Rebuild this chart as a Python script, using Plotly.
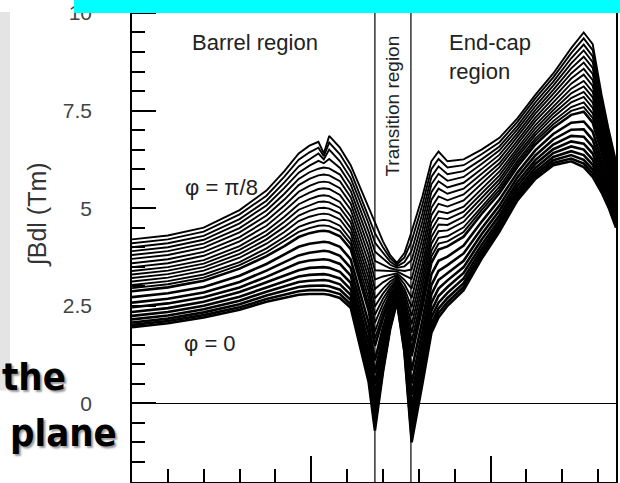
import plotly.graph_objects as go

# pseudorapidity knots (|eta|)
eta = [0.00, 0.20, 0.40, 0.60, 0.75, 0.85, 0.93, 0.99, 1.04, 1.07, 1.10, 1.16, 1.22, 1.27,
       1.32, 1.355, 1.40, 1.44, 1.478, 1.52, 1.56, 1.62, 1.67, 1.71, 1.76, 1.85, 1.95, 2.05,
       2.15, 2.25, 2.35, 2.45, 2.52, 2.57, 2.62, 2.66, 2.70]

# field integral (Tm), one list per azimuthal angle, from phi = 0 (phi_00) up to phi = pi/8 (phi_23)
phi_00 = [1.95, 2.05, 2.20, 2.40, 2.60, 2.70, 2.78, 2.80, 2.80, 2.80, 2.78, 2.70, 2.45, 1.50, 0.55, -0.70, 0.80, 1.90, 2.60, 1.30, -1.00, 0.50, 1.80, 2.20, 2.50, 2.90, 3.70, 4.40, 5.20, 5.75, 6.10, 6.20, 6.05, 5.80, 5.40, 5.00, 4.50]
phi_01 = [2.01, 2.11, 2.26, 2.46, 2.67, 2.78, 2.87, 2.90, 2.90, 2.90, 2.88, 2.80, 2.54, 1.60, 0.66, -0.57, 0.88, 1.95, 2.63, 1.36, -0.87, 0.62, 1.91, 2.31, 2.59, 2.98, 3.77, 4.46, 5.25, 5.80, 6.16, 6.27, 6.14, 5.89, 5.46, 5.05, 4.54]
phi_02 = [2.07, 2.17, 2.33, 2.54, 2.76, 2.88, 2.98, 3.01, 3.02, 3.02, 3.00, 2.91, 2.65, 1.72, 0.80, -0.41, 0.98, 2.00, 2.66, 1.44, -0.70, 0.76, 2.04, 2.43, 2.70, 3.08, 3.85, 4.53, 5.32, 5.87, 6.23, 6.36, 6.24, 5.99, 5.54, 5.11, 4.59]
phi_03 = [2.15, 2.25, 2.41, 2.63, 2.86, 2.99, 3.11, 3.14, 3.15, 3.16, 3.14, 3.05, 2.78, 1.87, 0.95, -0.22, 1.10, 2.07, 2.69, 1.53, -0.51, 0.93, 2.20, 2.58, 2.83, 3.20, 3.95, 4.62, 5.39, 5.94, 6.31, 6.46, 6.36, 6.11, 5.63, 5.18, 4.65]
phi_04 = [2.24, 2.34, 2.50, 2.73, 2.97, 3.12, 3.25, 3.29, 3.31, 3.31, 3.29, 3.20, 2.92, 2.03, 1.13, -0.01, 1.24, 2.15, 2.73, 1.63, -0.30, 1.12, 2.37, 2.75, 2.98, 3.34, 4.06, 4.71, 5.47, 6.03, 6.41, 6.58, 6.50, 6.24, 5.73, 5.26, 4.72]
phi_05 = [2.34, 2.44, 2.60, 2.85, 3.10, 3.27, 3.41, 3.47, 3.49, 3.49, 3.47, 3.37, 3.09, 2.21, 1.33, 0.23, 1.39, 2.23, 2.78, 1.75, -0.06, 1.34, 2.57, 2.94, 3.15, 3.49, 4.19, 4.82, 5.57, 6.13, 6.51, 6.71, 6.65, 6.40, 5.84, 5.35, 4.80]
phi_06 = [2.46, 2.56, 2.72, 2.97, 3.24, 3.43, 3.60, 3.66, 3.68, 3.69, 3.67, 3.57, 3.27, 2.41, 1.55, 0.49, 1.55, 2.33, 2.83, 1.87, 0.22, 1.58, 2.79, 3.16, 3.33, 3.65, 4.33, 4.94, 5.67, 6.23, 6.63, 6.85, 6.83, 6.57, 5.96, 5.45, 4.88]
phi_07 = [2.58, 2.68, 2.84, 3.11, 3.40, 3.61, 3.79, 3.86, 3.90, 3.91, 3.89, 3.78, 3.47, 2.63, 1.80, 0.78, 1.74, 2.43, 2.88, 2.01, 0.51, 1.84, 3.03, 3.39, 3.54, 3.84, 4.48, 5.07, 5.79, 6.35, 6.76, 7.01, 7.02, 6.75, 6.10, 5.56, 4.98]
phi_08 = [2.72, 2.82, 2.98, 3.27, 3.57, 3.81, 4.01, 4.09, 4.13, 4.14, 4.12, 4.01, 3.69, 2.88, 2.06, 1.10, 1.94, 2.55, 2.94, 2.17, 0.84, 2.13, 3.30, 3.65, 3.76, 4.04, 4.65, 5.22, 5.91, 6.48, 6.90, 7.19, 7.22, 6.96, 6.25, 5.68, 5.08]
phi_09 = [2.87, 2.97, 3.14, 3.45, 3.77, 4.03, 4.26, 4.36, 4.41, 4.42, 4.40, 4.28, 3.95, 3.16, 2.37, 1.47, 2.17, 2.68, 3.01, 2.35, 1.21, 2.47, 3.60, 3.94, 4.02, 4.27, 4.85, 5.38, 6.06, 6.63, 7.06, 7.39, 7.47, 7.19, 6.43, 5.82, 5.20]
phi_10 = [2.95, 3.05, 3.22, 3.54, 3.87, 4.15, 4.39, 4.49, 4.55, 4.56, 4.54, 4.42, 4.08, 3.30, 2.53, 1.66, 2.29, 2.75, 3.05, 2.44, 1.40, 2.64, 3.76, 4.09, 4.15, 4.39, 4.95, 5.47, 6.14, 6.71, 7.15, 7.49, 7.59, 7.31, 6.52, 5.89, 5.26]
phi_11 = [3.03, 3.13, 3.30, 3.62, 3.97, 4.26, 4.52, 4.62, 4.68, 4.70, 4.68, 4.55, 4.20, 3.44, 2.69, 1.84, 2.41, 2.81, 3.08, 2.52, 1.59, 2.80, 3.91, 4.24, 4.28, 4.51, 5.04, 5.55, 6.21, 6.78, 7.23, 7.59, 7.71, 7.43, 6.60, 5.96, 5.32]
phi_12 = [3.12, 3.22, 3.40, 3.73, 4.09, 4.39, 4.67, 4.78, 4.84, 4.86, 4.84, 4.71, 4.35, 3.61, 2.87, 2.06, 2.55, 2.89, 3.12, 2.63, 1.81, 3.00, 4.09, 4.41, 4.43, 4.65, 5.16, 5.65, 6.30, 6.87, 7.33, 7.71, 7.85, 7.57, 6.70, 6.04, 5.39]
phi_13 = [3.21, 3.31, 3.49, 3.83, 4.20, 4.52, 4.81, 4.93, 5.00, 5.01, 4.99, 4.86, 4.49, 3.77, 3.04, 2.27, 2.68, 2.96, 3.16, 2.73, 2.02, 3.19, 4.26, 4.58, 4.57, 4.78, 5.27, 5.74, 6.38, 6.95, 7.42, 7.82, 7.98, 7.70, 6.80, 6.12, 5.45]
phi_14 = [3.30, 3.40, 3.58, 3.93, 4.31, 4.65, 4.96, 5.08, 5.16, 5.17, 5.15, 5.01, 4.64, 3.93, 3.22, 2.48, 2.81, 3.04, 3.20, 2.83, 2.24, 3.38, 4.44, 4.75, 4.72, 4.91, 5.38, 5.84, 6.46, 7.04, 7.51, 7.94, 8.12, 7.84, 6.90, 6.20, 5.52]
phi_15 = [3.39, 3.49, 3.67, 4.03, 4.42, 4.78, 5.10, 5.23, 5.31, 5.33, 5.31, 5.16, 4.79, 4.09, 3.40, 2.69, 2.94, 3.12, 3.24, 2.93, 2.46, 3.57, 4.62, 4.92, 4.87, 5.04, 5.49, 5.94, 6.54, 7.13, 7.60, 8.06, 8.26, 7.98, 7.00, 6.28, 5.59]
phi_16 = [3.49, 3.59, 3.78, 4.15, 4.55, 4.93, 5.26, 5.40, 5.49, 5.51, 5.49, 5.34, 4.96, 4.28, 3.60, 2.93, 3.10, 3.21, 3.29, 3.05, 2.70, 3.79, 4.82, 5.11, 5.04, 5.20, 5.62, 6.05, 6.64, 7.23, 7.71, 8.19, 8.42, 8.13, 7.12, 6.37, 5.67]
phi_17 = [3.59, 3.69, 3.88, 4.26, 4.68, 5.07, 5.42, 5.57, 5.66, 5.68, 5.66, 5.51, 5.12, 4.46, 3.80, 3.17, 3.25, 3.29, 3.33, 3.16, 2.94, 4.00, 5.01, 5.30, 5.20, 5.35, 5.74, 6.15, 6.73, 7.32, 7.82, 8.32, 8.57, 8.28, 7.23, 6.46, 5.74]
phi_18 = [3.70, 3.80, 3.99, 4.38, 4.81, 5.22, 5.59, 5.75, 5.84, 5.86, 5.84, 5.69, 5.28, 4.64, 4.00, 3.41, 3.40, 3.38, 3.38, 3.28, 3.19, 4.22, 5.21, 5.50, 5.37, 5.50, 5.87, 6.26, 6.83, 7.42, 7.93, 8.45, 8.73, 8.44, 7.34, 6.55, 5.82]
phi_19 = [3.80, 3.90, 4.09, 4.49, 4.94, 5.37, 5.75, 5.92, 6.01, 6.04, 6.02, 5.86, 5.44, 4.82, 4.20, 3.65, 3.55, 3.46, 3.42, 3.39, 3.43, 4.44, 5.41, 5.69, 5.53, 5.65, 6.00, 6.37, 6.92, 7.51, 8.03, 8.58, 8.88, 8.59, 7.45, 6.64, 5.89]
phi_20 = [3.90, 4.00, 4.19, 4.61, 5.07, 5.52, 5.91, 6.09, 6.21, 6.15, 6.26, 6.03, 5.61, 5.01, 4.40, 3.89, 3.70, 3.55, 3.47, 3.51, 3.67, 4.66, 5.61, 5.88, 5.70, 5.80, 6.13, 6.48, 7.02, 7.61, 8.14, 8.71, 9.04, 8.74, 7.57, 6.73, 5.97]
phi_21 = [4.00, 4.10, 4.29, 4.72, 5.19, 5.66, 6.07, 6.26, 6.40, 6.25, 6.50, 6.20, 5.77, 5.19, 4.60, 4.12, 3.85, 3.63, 3.51, 3.62, 3.91, 4.87, 5.80, 6.07, 5.87, 5.95, 6.25, 6.58, 7.11, 7.71, 8.24, 8.84, 9.19, 8.89, 7.68, 6.82, 6.05]
phi_22 = [4.10, 4.20, 4.40, 4.84, 5.32, 5.81, 6.24, 6.43, 6.55, 6.33, 6.68, 6.38, 5.94, 5.37, 4.80, 4.36, 4.00, 3.72, 3.56, 3.74, 4.16, 5.09, 6.00, 6.26, 6.04, 6.10, 6.38, 6.69, 7.21, 7.81, 8.35, 8.97, 9.35, 9.05, 7.79, 6.91, 6.13]
phi_23 = [4.20, 4.30, 4.50, 4.95, 5.45, 5.95, 6.40, 6.60, 6.70, 6.40, 6.85, 6.55, 6.10, 5.55, 5.00, 4.60, 4.15, 3.80, 3.60, 3.85, 4.40, 5.30, 6.20, 6.45, 6.20, 6.25, 6.50, 6.80, 7.30, 7.90, 8.45, 9.10, 9.50, 9.20, 7.90, 7.00, 6.20]

curves = [phi_00, phi_01, phi_02, phi_03, phi_04, phi_05, phi_06, phi_07, phi_08, phi_09,
          phi_10, phi_11, phi_12, phi_13, phi_14, phi_15, phi_16, phi_17, phi_18, phi_19,
          phi_20, phi_21, phi_22, phi_23]

# transition region boundaries in |eta|
transition_edges = [1.355, 1.556]

y_tick_values = [0, 2.5, 5, 7.5, 10]
y_tick_labels = ["0", "2.5", "5", "7.5", "10"]

FONT = "Liberation Sans, Arial, sans-serif"
W, H = 620, 483
L, R, T, B = 132, 4, 0, 1
PW, PH = W - L - R, H - T - B


def px(x):
    return (x - L) / PW


def py(y):
    return 1 - (y - T) / PH


fig = go.Figure()
for i, vals in enumerate(curves):
    fig.add_trace(go.Scatter(x=eta, y=vals, mode="lines",
                             line=dict(color="black", width=2.6 if i < 10 else 1.9),
                             hoverinfo="skip", showlegend=False))

for xe in transition_edges:
    fig.add_shape(type="line", xref="x", yref="paper", x0=xe, x1=xe, y0=0, y1=1,
                  line=dict(color="black", width=1.2), layer="above")

fig.update_layout(
    width=W, height=H,
    margin=dict(l=L, r=R, t=T, b=B),
    paper_bgcolor="white", plot_bgcolor="white",
    showlegend=False,
    xaxis=dict(range=[0, 2.7], showgrid=False, zeroline=False, showline=True,
               linecolor="black", linewidth=1.5, mirror=True,
               ticks="inside", dtick=1, tick0=0, ticklen=26, tickwidth=1.5,
               tickcolor="black", showticklabels=False,
               minor=dict(dtick=0.2, tick0=0, ticks="inside", ticklen=13,
                          tickwidth=1.5, tickcolor="black", showgrid=False)),
    yaxis=dict(range=[-2.015, 10.281], showgrid=False, zeroline=True,
               zerolinecolor="black", zerolinewidth=1.2, showline=True,
               linecolor="black", linewidth=1.5, mirror=True,
               ticks="inside", tickvals=y_tick_values, ticktext=y_tick_labels,
               ticklen=24, tickwidth=1.5, tickcolor="black",
               ticklabelstandoff=34,
               tickfont=dict(family=FONT, size=21, color="#444444"),
               minor=dict(dtick=0.5, tick0=0, ticks="inside", ticklen=13,
                          tickwidth=1.5, tickcolor="black", showgrid=False)),
)

# left slide strip
fig.add_shape(type="rect", xref="paper", yref="paper", x0=px(0), x1=px(10),
              y0=py(390), y1=py(10), fillcolor="#e4e4e4", line=dict(width=0), layer="below")


def label(x, y, text, font, xanchor="center", align="center", angle=0, **kw):
    fig.add_annotation(x=px(x), y=py(y), xref="paper", yref="paper", text=text,
                       showarrow=False, xanchor=xanchor, yanchor="middle",
                       align=align, textangle=angle, font=font, **kw)


txt = dict(family=FONT, size=22, color="#222222")
label(255, 41, "Barrel region", txt)
label(447, 55, "End-cap<br>region", txt, xanchor="left", align="left")
label(393, 105, "Transition region", dict(family=FONT, size=19, color="#222222"), angle=-90)
label(183, 186, "\u03c6 = \u03c0/8", txt, xanchor="left")
label(182, 343, "\u03c6 = 0", txt, xanchor="left")
label(37, 214, "\u222bBdl (Tm)", dict(family=FONT, size=25, color="#333333"), angle=-90)

big = dict(family="DejaVu Sans Condensed, DejaVu Sans, sans-serif", size=38, color="black",
           weight="bold", shadow="2px 2px 2px #9a9a9a")
label(0, 377, "the", big, xanchor="left")
label(8, 433, "plane", big, xanchor="left")

# cyan title bar of the slide (its text lies above the picture), in two pieces
cyan_font = dict(family=FONT, size=10, color="#00FFFF")
label(103, 4, " ", cyan_font, width=58, height=15, bgcolor="#00FFFF", borderpad=0, borderwidth=0)
label(377, 4, " ", cyan_font, width=490, height=15, bgcolor="#00FFFF", borderpad=0, borderwidth=0)

fig.write_html("out.html")
